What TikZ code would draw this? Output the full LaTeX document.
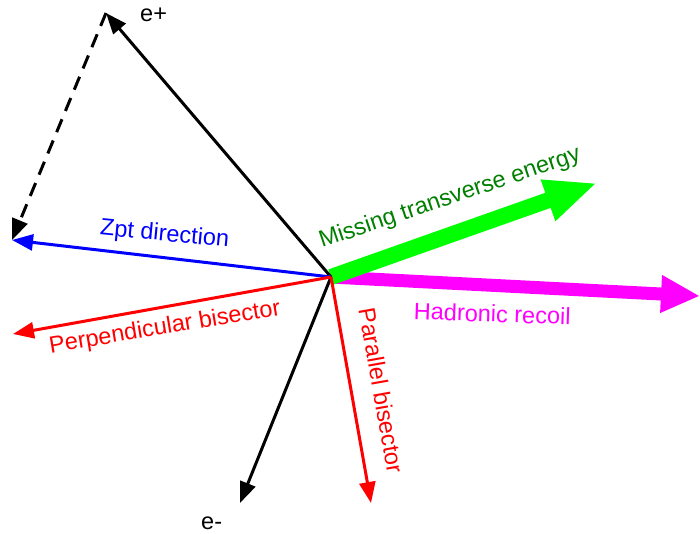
\documentclass[tikz,border=0pt]{standalone}
\usepackage{fontspec}
\setmainfont{Liberation Sans}
\usetikzlibrary{arrows.meta}
\definecolor{metfill}{RGB}{0,255,0}
\definecolor{mettext}{RGB}{0,128,0}
\definecolor{hadfill}{RGB}{255,0,255}
\tikzset{
  vec/.style={line width=3pt, -{Triangle[length=21pt,width=16pt]}},
  lbl/.style={anchor=base, inner sep=0pt, font=\fontsize{23.5}{28}\selectfont},
}
\begin{document}
\begin{tikzpicture}[x=1pt,y=-1pt]
    \useasboundingbox (0,0) rectangle (700,533);

    \coordinate (O) at (331,277);
    \coordinate (Ep) at (106,13);
    \coordinate (Em) at (240,503);
    \coordinate (Z) at (12,240);
    \coordinate (Perp) at (13,334);
    \coordinate (Par) at (371,503);
    \coordinate (Met) at (597,183);
    \coordinate (Had) at (700,296);

    \draw[hadfill, line width=13pt, -{Triangle[length=39pt,width=35pt]}] (O) -- (Had);
    \draw[metfill, line width=16pt, -{Triangle[length=52pt,width=40pt]}] (O) -- (Met);

    \draw[vec] (O) -- (Ep);
    \draw[vec, dash pattern=on 14pt off 9pt] (Ep) -- (Z);
    \draw[vec] (O) -- (Em);
    \draw[vec, blue] (O) -- (Z);
    \draw[vec, red] (O) -- (Perp);
    \draw[vec, red] (O) -- (Par);

    \node[lbl, anchor=base west] at (140,21) (lEp) {e+};
    \node[lbl, anchor=base west] at (201,529) (lEm) {e-};
    \node[lbl, blue, rotate=-5.5] at (164,241) (lZ) {Zpt direction};
    \node[lbl, red, rotate=9.5] at (166,334) (lPerp) {Perpendicular bisector};
    \node[lbl, mettext, rotate=18.7] at (452,204) (lMet) {Missing transverse energy};
    \node[lbl, hadfill, rotate=-2] at (492,322) (lHad) {Hadronic recoil};
    \node[lbl, red, rotate=-80] at (373,392) (lPar) {Parallel bisector};
\end{tikzpicture}
\end{document}
